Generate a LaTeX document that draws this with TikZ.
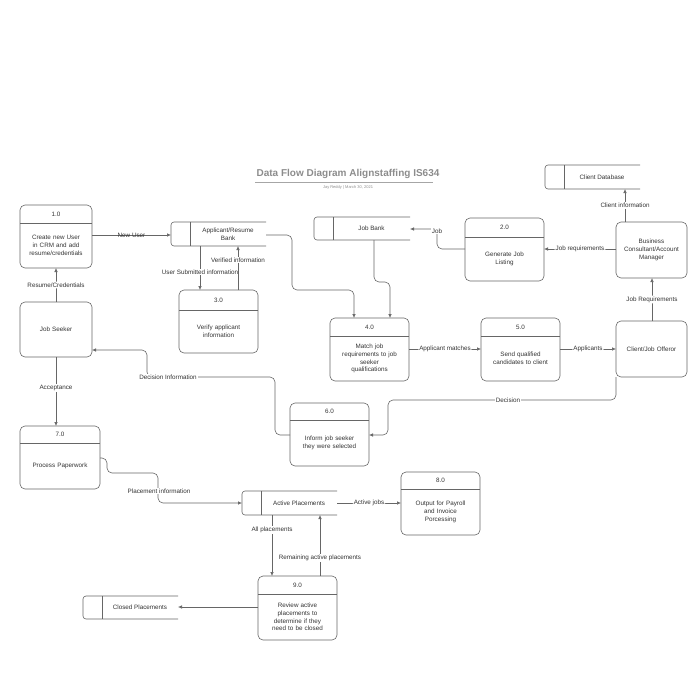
\documentclass[tikz,border=0pt]{standalone}
\usepackage{fontspec}
\setmainfont{Liberation Sans}
\usetikzlibrary{arrows.meta}
\hyphenpenalty=10000
\exhyphenpenalty=10000
\begin{document}
\begin{tikzpicture}[x=1pt,y=-1pt,
  line col/.style={draw=black!60, line width=0.6pt},
  proc/.style={line col, rounded corners=5pt, rectangle, inner sep=0pt},
  txt/.style={font=\fontsize{6.3}{7.8}\selectfont, text=black!80, align=center},
  lab/.style={txt, fill=white, inner sep=1pt},
  flow/.style={line col, -{Latex[length=4pt,width=3.5pt]}, rounded corners=5pt},
  plain/.style={line col}]
\useasboundingbox (0,0) rectangle (700,685);
% title
\node[font=\fontsize{10}{12}\selectfont\bfseries, text=black!45] (title) at (348,174) {Data Flow Diagram Alignstaffing IS634};
\draw[black!35, line width=0.6pt] (255,182) -- (433,182);
\node[font=\fontsize{4}{5}\selectfont, text=black!45] (sub) at (348,187) {Jay Reddy \textbar{} March 30, 2021};
\newcommand{\myproc}[9]{%
  \draw[proc] (#2,#3) rectangle (#4,#5);
  \draw[plain] (#2,#6) -- (#4,#6);
  \node[txt] (#1h) at ({(#2+#4)/2},{(#3+#6)/2}) {#7};
  \node[txt, text width=#9] (#1t) at ({(#2+#4)/2},{(#6+#5)/2}) {#8};
  \coordinate (#1) at ({(#2+#4)/2},{(#3+#5)/2});}
\newcommand{\mystore}[6]{%
  \draw[line col, rounded corners=3pt] (#4,#3) -- (#2,#3) -- (#2,#5) -- (#4,#5);
  \draw[plain] ({#2+19},#3) -- ({#2+19},#5);
  \node[txt] (#1) at ({(#2+19+#4)/2},{(#3+#5)/2}) {#6};}
\newcommand{\myext}[6]{%
  \draw[proc] (#2,#3) rectangle (#4,#5);
  \node[txt, text width=64pt] (#1) at ({(#2+#4)/2},{(#3+#5)/2}) {#6};}

\myproc{p1}{20}{205}{92}{268}{223}{1.0}{Create new User in CRM and add resume/credentials}{62pt}
\myproc{p3}{179}{290}{258}{353}{310}{3.0}{Verify applicant information}{60pt}
\myproc{p2}{465}{218}{544}{281}{237}{2.0}{Generate Job\\Listing}{60pt}
\myproc{p4}{330}{318}{409}{381}{336}{4.0}{Match job\\requirements to job\\seeker\\qualifications}{68pt}
\myproc{p5}{481}{318}{560}{381}{336}{5.0}{Send qualified candidates to client}{64pt}
\myproc{p6}{290}{403}{369}{466}{420}{6.0}{Inform job seeker they were selected}{60pt}
\myproc{p7}{20}{426}{100}{489}{443}{7.0}{Process Paperwork}{70pt}
\myproc{p8}{401}{472}{480}{535}{489}{8.0}{Output for Payroll and Invoice Porcessing}{52pt}
\myproc{p9}{258}{576}{337}{640}{594}{9.0}{Review active placements to determine if they need to be closed}{56pt}

\mystore{sAR}{171}{222}{266}{246}{Applicant/Resume\\Bank}
\mystore{sJB}{314}{217}{410}{240}{Job Bank}
\mystore{sCD}{545}{165}{640}{189}{Client Database}
\mystore{sAP}{242}{491}{337}{515}{Active Placements}
\mystore{sCP}{83}{596}{178}{619}{Closed Placements}

\myext{eJS}{20}{302}{92}{357}{Job Seeker}
\myext{eBC}{616}{222}{687}{278}{Business Consultant/Account Manager}
\myext{eCO}{616}{321}{687}{377}{Client/Job Offeror}

% flows
\draw[flow] (92,235) -- node[txt, inner sep=1pt]{New User} (171,235);
\draw[flow] (200,246) -- (200,290);
\node[lab] (l1) at (200,272) {User Submitted information};
\draw[flow] (238,290) -- (238,246);
\node[lab] (l2) at (238,260) {Verified information};
\draw[flow] (266,235) -- (292,235) -- (292,290) -- (354,290) -- (354,318);
\draw[flow] (374,240) -- (374,282) -- (390,282) -- (390,318);
\draw[flow] (465,249) -- (437,249) -- (437,229) -- (410,229);
\node[lab] (l3) at (437,231) {Job};
\draw[flow] (616,249) -- node[lab]{Job requirements} (544,249);
\draw[flow] (625,222) -- node[lab]{Client information} (625,189);
\draw[flow] (652,321) -- node[lab]{Job Requirements} (652,278);
\draw[flow] (409,349) -- node[lab]{Applicant matches} (481,349);
\draw[flow] (560,349) -- node[lab]{Applicants} (616,349);
\draw[flow] (616,377) -- (616,400) -- (388,400) -- (388,435) -- (369,435);
\node[lab] (l4) at (508,400) {Decision};
\draw[flow] (290,435) -- (275,435) -- (275,377) -- (147,377) -- (147,350) -- (92,350);
\node[lab] (l5) at (168,377) {Decision Information};
\draw[flow] (56,302) -- node[lab]{Resume/Credentials} (56,268);
\draw[flow] (56,357) -- node[lab, pos=0.45]{Acceptance} (56,426);
\draw[flow] (100,458) -- (107,458) -- (107,473) -- (158,473) -- (158,503) -- (242,503);
\node[lab] (l6) at (159,491) {Placement information};
\draw[flow] (337,503) -- node[lab]{Active jobs} (401,503);
\draw[flow] (272,515) -- (272,576);
\node[lab] (l7) at (272,530) {All placements};
\draw[flow] (320,576) -- (320,515);
\node[lab] (l8) at (320,558) {Remaining active placements};
\draw[flow] (258,607) -- (178,607);
\end{tikzpicture}
\end{document}
